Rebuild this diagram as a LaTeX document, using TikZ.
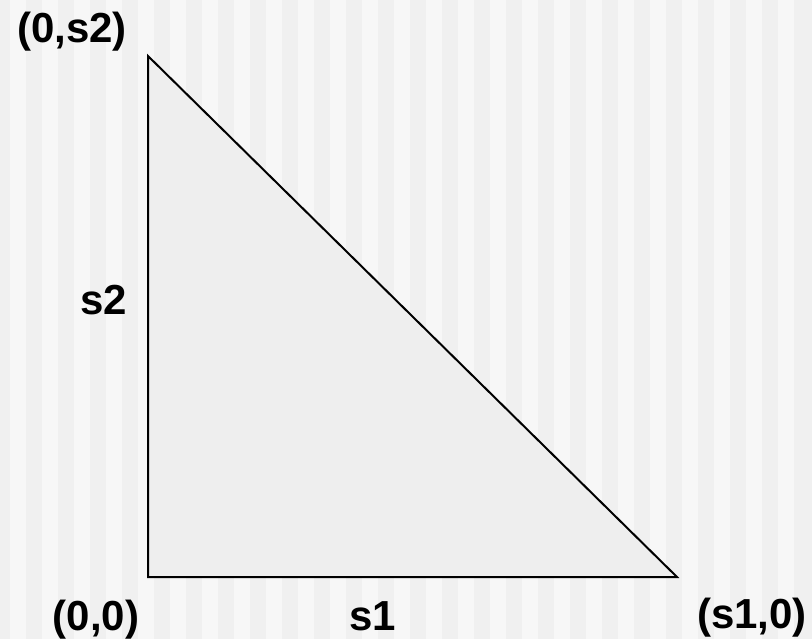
\documentclass[tikz,border=0pt]{standalone}
\usepackage{fontspec}
\setmainfont{Liberation Sans}
\definecolor{stripedark}{HTML}{F0F0F0}
\definecolor{stripelight}{HTML}{F7F7F7}
\definecolor{trifill}{HTML}{EEEEEE}
\begin{document}
\begin{tikzpicture}[x=1pt,y=-1pt,
  lbl/.style={font=\fontsize{42}{48}\selectfont\bfseries, inner sep=0pt, anchor=base}]
\useasboundingbox (0,0) rectangle (812,639);
\fill[stripedark] (0,0) rectangle (812,639);
\foreach \i in {0,...,24}
  \fill[stripelight] ({10+32*\i},0) rectangle ++(16,639);
\coordinate (o) at (148,577);
\coordinate (a) at (148,56);
\coordinate (b) at (677,577);
\draw[line width=2pt, fill=trifill] (o) -- (a) -- (b) -- cycle;
\node[lbl] (la) at (72,43) {(0,s2)};
\node[lbl] (ls2) at (104,315) {s2};
\node[lbl] (lo) at (96,630) {(0,0)};
\node[lbl] (ls1) at (373,630) {s1};
\node[lbl] (lb) at (752,628) {(s1,0)};
\end{tikzpicture}
\end{document}
